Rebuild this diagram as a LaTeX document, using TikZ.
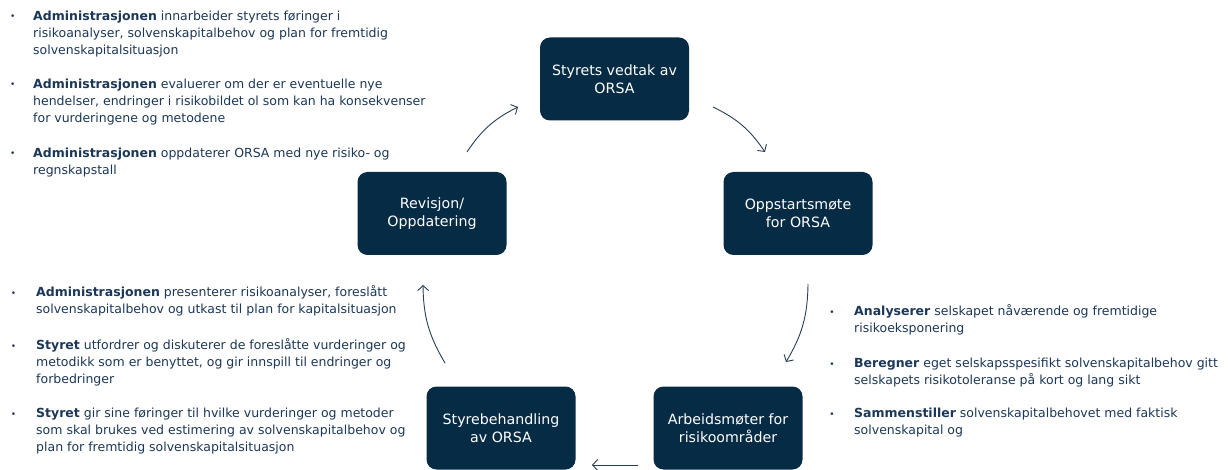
\documentclass[tikz,border=0pt]{standalone}
\usepackage{fontspec}
\setmainfont{DejaVu Sans}
\usetikzlibrary{arrows.meta,calc}
\definecolor{navy}{RGB}{6,43,69}
\definecolor{txt}{RGB}{28,56,88}
\definecolor{arrowc}{RGB}{40,62,86}
\begin{document}
\begin{tikzpicture}[x=1pt,y=-1pt,
 box/.style={fill=navy,rounded corners=10pt,minimum width=149pt,minimum height=83pt,text=white,align=center,font=\fontsize{14.2}{18}\selectfont,inner sep=0pt},
 para/.style={anchor=north west,align=left,text=txt,font=\fontsize{12.5}{17}\selectfont,inner sep=0pt},
 dot/.style={anchor=base,text=txt,font=\fontsize{9}{9}\selectfont,inner sep=0pt},
 arr/.style={draw=arrowc,line width=0.9pt,-{Straight Barb[length=5pt,width=11pt]}}]
\useasboundingbox (0,0) rectangle (1228,470);
\fill[white] (0,0) rectangle (1228,470);

% boxes
\node[box] (vedtak) at (614.5,79) {Styrets vedtak av\\ORSA};
\node[box] (rev) at (432,213.5) {Revisjon/\\Oppdatering};
\node[box] (opp) at (798,213.5) {Oppstartsmøte\\for ORSA};
\node[box] (styre) at (501,428) {Styrebehandling\\av ORSA};
\node[box] (arb) at (728,428) {Arbeidsmøter for\\risikoområder};

% top-left text (baselines 20, 88, 157; strut height 11.9)
\node[dot] (d1) at (12.7,20) {•};
\node[para] (t1) at (33,8.1) {\strut\textbf{Administrasjonen} innarbeider styrets føringer i\\risikoanalyser, solvenskapitalbehov og plan for fremtidig\\solvenskapitalsituasjon};
\node[dot] (d2) at (12.7,88) {•};
\node[para] (t2) at (33,76.1) {\strut\textbf{Administrasjonen} evaluerer om der er eventuelle nye\\hendelser, endringer i risikobildet ol som kan ha konsekvenser\\for vurderingene og metodene};
\node[dot] (d3) at (12.7,157) {•};
\node[para] (t3) at (33,145.1) {\strut\textbf{Administrasjonen} oppdaterer ORSA med nye risiko- og\\regnskapstall};

% bottom-left text (baselines 296.7, 349, 417)
\node[dot] (d4) at (13.5,296.7) {•};
\node[para] (b1) at (36,284.8) {\strut\textbf{Administrasjonen} presenterer risikoanalyser, foreslått\\solvenskapitalbehov og utkast til plan for kapitalsituasjon};
\node[dot] (d5) at (13.5,349) {•};
\node[para] (b2) at (36,337.1) {\strut\textbf{Styret} utfordrer og diskuterer de foreslåtte vurderinger og\\metodikk som er benyttet, og gir innspill til endringer og\\forbedringer};
\node[dot] (d6) at (13.5,417) {•};
\node[para] (b3) at (36,405.1) {\strut\textbf{Styret} gir sine føringer til hvilke vurderinger og metoder\\som skal brukes ved estimering av solvenskapitalbehov og\\plan for fremtidig solvenskapitalsituasjon};

% right text (baselines 315, 367, 417)
\node[dot] (d7) at (832,315) {•};
\node[para] (r1) at (854,303.1) {\strut\textbf{Analyserer} selskapet nåværende og fremtidige\\risikoeksponering};
\node[dot] (d8) at (832,367) {•};
\node[para] (r2) at (854,355.1) {\strut\textbf{Beregner} eget selskapsspesifikt solvenskapitalbehov gitt\\selskapets risikotoleranse på kort og lang sikt};
\node[dot] (d9) at (832,417) {•};
\node[para] (r3) at (854,405.1) {\strut\textbf{Sammenstiller} solvenskapitalbehovet med faktisk\\solvenskapital og};

% arrow end points
\coordinate (a1s) at (467,152);
\coordinate (a1e) at (518,107);
\coordinate (a2s) at (713,107);
\coordinate (a2e) at (765,152);
\coordinate (a3s) at (808,284);
\coordinate (a3e) at (786,362);
\coordinate (a4s) at (638,465);
\coordinate (a4e) at (592,465);
\coordinate (a5s) at (445,363);
\coordinate (a5e) at (423,285);

\draw[arr] (a1s) to[bend left=15] (a1e);
\draw[arr] (a2s) to[bend left=15] (a2e);
\draw[arr] (a3s) to[bend left=15] (a3e);
\draw[arr] (a4s) -- (a4e);
\draw[arr] (a5s) to[bend left=15] (a5e);
\end{tikzpicture}
\end{document}
